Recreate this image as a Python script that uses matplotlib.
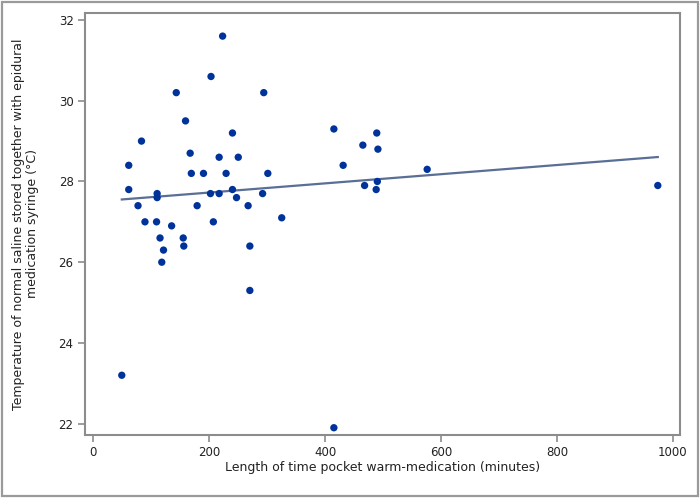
import numpy as np
import matplotlib
matplotlib.use("Agg")
import matplotlib.pyplot as plt
from matplotlib.patches import Rectangle

# pocket warming time (minutes) and saline temperature (deg C)
minutes = [49, 61, 61, 77, 83, 89, 109, 110, 110, 115, 118, 121, 135, 143,
           155, 156, 159, 167, 169, 179, 190, 202, 203, 207, 217, 217, 223,
           229, 240, 240, 247, 250, 267, 270, 270, 292, 294, 301, 325, 415,
           415, 431, 465, 468, 489, 491, 490, 488, 576, 974]
temps = [23.2, 28.4, 27.8, 27.4, 29.0, 27.0, 27.0, 27.7, 27.6, 26.6, 26.0,
         26.3, 26.9, 30.2, 26.6, 26.4, 29.5, 28.7, 28.2, 27.4, 28.2, 27.7,
         30.6, 27.0, 28.6, 27.7, 31.6, 28.2, 29.2, 27.8, 27.6, 28.6, 27.4,
         26.4, 25.3, 27.7, 30.2, 28.2, 27.1, 29.3, 21.9, 28.4, 28.9, 27.9,
         29.2, 28.8, 28.0, 27.8, 28.3, 27.9]

xticks = [0, 200, 400, 600, 800, 1000]
yticks = [22, 24, 26, 28, 30, 32]

grey = "#8c8c8c"

fig = plt.figure(figsize=(7, 4.98), dpi=100)
ax = fig.add_axes([0.121, 0.1265, 0.851, 0.848])

x = np.array(minutes)
y = np.array(temps)
slope, intercept = np.polyfit(x, y, 1)
xl = np.array([x.min(), x.max()])
ax.plot(xl, intercept + slope * xl, color="#5a6f96", lw=1.6, zorder=2)
ax.scatter(x, y, s=28, color="#00339a", edgecolor="none", zorder=3)

ax.set_xlim(-15, 1013)
ax.set_ylim(21.72, 32.18)
ax.set_xticks(xticks)
ax.set_yticks(yticks)

for sp in ax.spines.values():
    sp.set_color(grey)
    sp.set_linewidth(1.5)
ax.tick_params(colors=grey, width=1.2, length=5, labelsize=8.5,
               labelcolor="#222222", pad=3)

ax.set_xlabel("Length of time pocket warm-medication (minutes)",
              fontsize=9, color="#222222", labelpad=1)
ax.set_ylabel("Temperature of normal saline stored together with epidural\n"
              "medication syringe (\u00b0C)", fontsize=9, color="#222222",
              labelpad=14, linespacing=1.1)

# outer frame
fig.patches.append(Rectangle((0.003, 0.004), 0.994, 0.992,
                             transform=fig.transFigure, fill=False,
                             edgecolor="#9a9a9a", lw=1.6))

fig.savefig("out.png", dpi=100)
